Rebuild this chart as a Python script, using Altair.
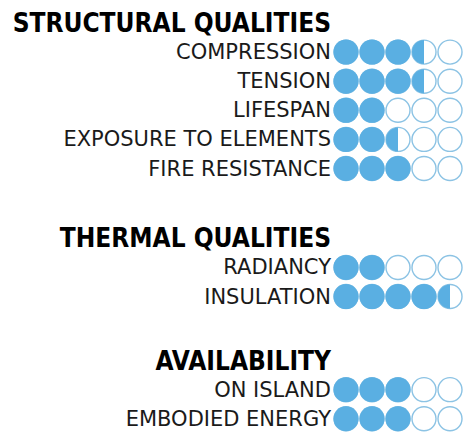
import altair as alt
import pandas as pd

# ---- data ----
group_titles = ["STRUCTURAL QUALITIES", "THERMAL QUALITIES", "AVAILABILITY"]
structural_labels = ["COMPRESSION", "TENSION", "LIFESPAN", "EXPOSURE TO ELEMENTS", "FIRE RESISTANCE"]
structural_scores = [3.5, 3.5, 2, 2.5, 3]
thermal_labels = ["RADIANCY", "INSULATION"]
thermal_scores = [2, 4.5]
availability_labels = ["ON ISLAND", "EMBODIED ENERGY"]
availability_scores = [3, 3]
max_score = 5

# ---- layout (row slots) ----
group_start = [0, 7.4, 11.6]
groups = [
    (structural_labels, structural_scores),
    (thermal_labels, thermal_scores),
    (availability_labels, availability_scores),
]

BLUE = "#5aafe2"
OUTLINE = "#8cc3e4"
LABEL_FONT = "DejaVu Sans"
HEAD_FONT = "DejaVu Sans Condensed"
D = 25

header_rows, label_rows, circle_rows = [], [], []
for title, start, (labels, scores) in zip(group_titles, group_start, groups):
    header_rows.append({"text": title, "slot": start, "idx": 1})
    for k, (lab, sc) in enumerate(zip(labels, scores), start=1):
        slot = start + k
        label_rows.append({"text": lab, "slot": slot, "idx": 1})
        for i in range(1, max_score + 1):
            if sc >= i:
                state = "full"
            elif sc >= i - 0.5:
                state = "half"
            else:
                state = "empty"
            circle_rows.append({"label": lab, "slot": slot, "idx": i, "state": state})

headers = pd.DataFrame(header_rows)
labels_df = pd.DataFrame(label_rows)
circles = pd.DataFrame(circle_rows)

W, H = 455, 424
ROW = 29.1
TOP = 15
xscale = alt.Scale(domain=[-12, (W - 312) / 26])
yscale = alt.Scale(domain=[-TOP / ROW, (H - TOP) / ROW], reverse=True)

X = alt.X("idx:Q", scale=xscale, axis=None)
Y = alt.Y("slot:Q", scale=yscale, axis=None)

base_c = alt.Chart(circles)

outline = base_c.mark_point(
    shape="circle", filled=False, fill="white", fillOpacity=1,
    stroke=OUTLINE, strokeWidth=1.4, size=(D - 1) ** 2, opacity=1
).encode(x=X, y=Y)

full = base_c.transform_filter(alt.datum.state == "full").mark_point(
    shape="circle", filled=True, color=BLUE, size=D ** 2, opacity=1
).encode(x=X, y=Y)

half = base_c.transform_filter(alt.datum.state == "half").mark_point(
    shape="M 0 -1 A 1 1 0 0 0 0 1 Z", filled=True, color=BLUE,
    size=(D - 1) ** 2, opacity=1
).encode(x=X, y=Y)

label_text = alt.Chart(labels_df).mark_text(
    align="right", baseline="middle", dx=-15, dy=1,
    font=LABEL_FONT, fontSize=21, color="#1a1a1a"
).encode(x=X, y=Y, text="text:N")

header_text = alt.Chart(headers).mark_text(
    align="right", baseline="middle", dx=-15, dy=1,
    font=HEAD_FONT, fontSize=26, fontWeight="bold", color="#000000"
).encode(x=X, y=Y, text="text:N")

chart = alt.layer(outline, full, half, label_text, header_text).properties(
    width=W, height=H, padding=0, autosize="none"
).configure_view(stroke=None)

chart.save("out.html", embed_options={"renderer": "svg", "actions": False})
